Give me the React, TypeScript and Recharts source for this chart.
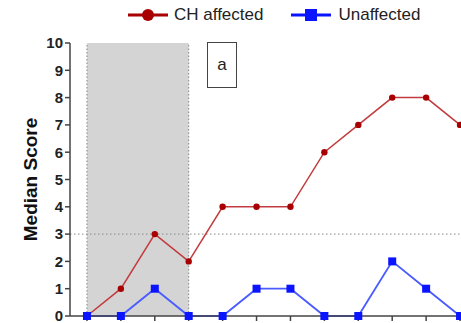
import {
  LineChart,
  Line,
  XAxis,
  YAxis,
  ReferenceArea,
  ReferenceLine,
} from "recharts";

const days = [1, 2, 3, 4, 5, 6, 7, 8, 9, 10, 11, 12];
const chAffected = [0, 1, 3, 2, 4, 4, 4, 6, 7, 8, 8, 7];
const unaffected = [0, 0, 1, 0, 0, 1, 1, 0, 0, 2, 1, 0];
const yTicks = [0, 1, 2, 3, 4, 5, 6, 7, 8, 9, 10];

const data = days.map((d, i) => ({
  day: d,
  ch: chAffected[i],
  un: unaffected[i],
}));

const RED_LINE = "#c23b3e";
const RED_DOT = "#a80000";
const BLUE_LINE = "#4a5cff";
const BLUE_DOT = "#0a14ff";
const AXIS = "#444";

const SquareDot = (props: any) => {
  const { cx, cy } = props;
  if (cx == null || cy == null) return null;
  return <rect x={cx - 4} y={cy - 4} width={8} height={8} fill={BLUE_DOT} />;
};

export default function App() {
  return (
    <div
      style={{
        position: "absolute",
        left: 0,
        top: 0,
        width: 461,
        height: 323,
        overflow: "hidden",
        background: "#fff",
        fontFamily: "'Liberation Sans', Arial, sans-serif",
      }}
    >
      {/* legend */}
      <div style={{ position: "absolute", left: 128, top: 5, display: "flex", alignItems: "center", fontSize: 17, color: "#222" }}>
        <svg width={40} height={20}>
          <line x1={0} y1={10} x2={40} y2={10} stroke={RED_DOT} strokeWidth={3} />
          <circle cx={20} cy={10} r={6} fill={RED_DOT} />
        </svg>
        <span style={{ marginLeft: 6 }}>CH affected</span>
        <svg width={40} height={20} style={{ marginLeft: 28 }}>
          <line x1={0} y1={10} x2={40} y2={10} stroke={BLUE_DOT} strokeWidth={3} />
          <rect x={14} y={4} width={12} height={12} fill={BLUE_DOT} />
        </svg>
        <span style={{ marginLeft: 7 }}>Unaffected</span>
      </div>

      {/* panel label */}
      <div
        style={{
          position: "absolute",
          left: 207,
          top: 42,
          width: 28,
          height: 44,
          border: "1.5px solid #444",
          display: "flex",
          alignItems: "center",
          justifyContent: "center",
          fontSize: 17,
          color: "#222",
        }}
      >
        a
      </div>

      <div style={{ position: "absolute", left: 0, top: 0 }}>
        <LineChart
          width={477}
          height={346}
          data={data}
          margin={{ top: 43, right: 0, bottom: 0, left: 0 }}
        >
          <ReferenceArea x1={1} x2={4} y1={0} y2={10} fill="#d4d4d4" fillOpacity={1} stroke="none" />
          <ReferenceLine x={1} stroke="#888" strokeDasharray="1.5 2" />
          <ReferenceLine x={4} stroke="#888" strokeDasharray="1.5 2" />
          <ReferenceLine y={3} stroke="#888" strokeDasharray="1.5 2.5" />
          <XAxis
            dataKey="day"
            type="number"
            domain={[0.5, 12.5]}
            ticks={days}
            tickFormatter={() => ""}
            stroke={AXIS}
            strokeWidth={1.5}
            tickSize={5}
            height={30}
          />
          <YAxis
            domain={[0, 10]}
            ticks={yTicks}
            width={70}
            stroke={AXIS}
            strokeWidth={1.5}
            tickSize={5}
            interval={0}
            tick={{ fill: "#222", fontSize: 15, fontWeight: "bold" }}
            label={{
              value: "Median Score",
              angle: -90,
              position: "insideLeft",
              offset: 30,
              style: { fill: "#111", fontSize: 19, fontWeight: "bold", textAnchor: "middle" },
            }}
          />
          <Line
            dataKey="ch"
            stroke={RED_LINE}
            strokeWidth={1.5}
            dot={{ r: 3.2, fill: RED_DOT, stroke: RED_DOT, strokeWidth: 0 }}
            isAnimationActive={false}
          />
          <Line
            dataKey="un"
            stroke={BLUE_LINE}
            strokeWidth={1.8}
            dot={<SquareDot />}
            isAnimationActive={false}
          />
        </LineChart>
      </div>
    </div>
  );
}
